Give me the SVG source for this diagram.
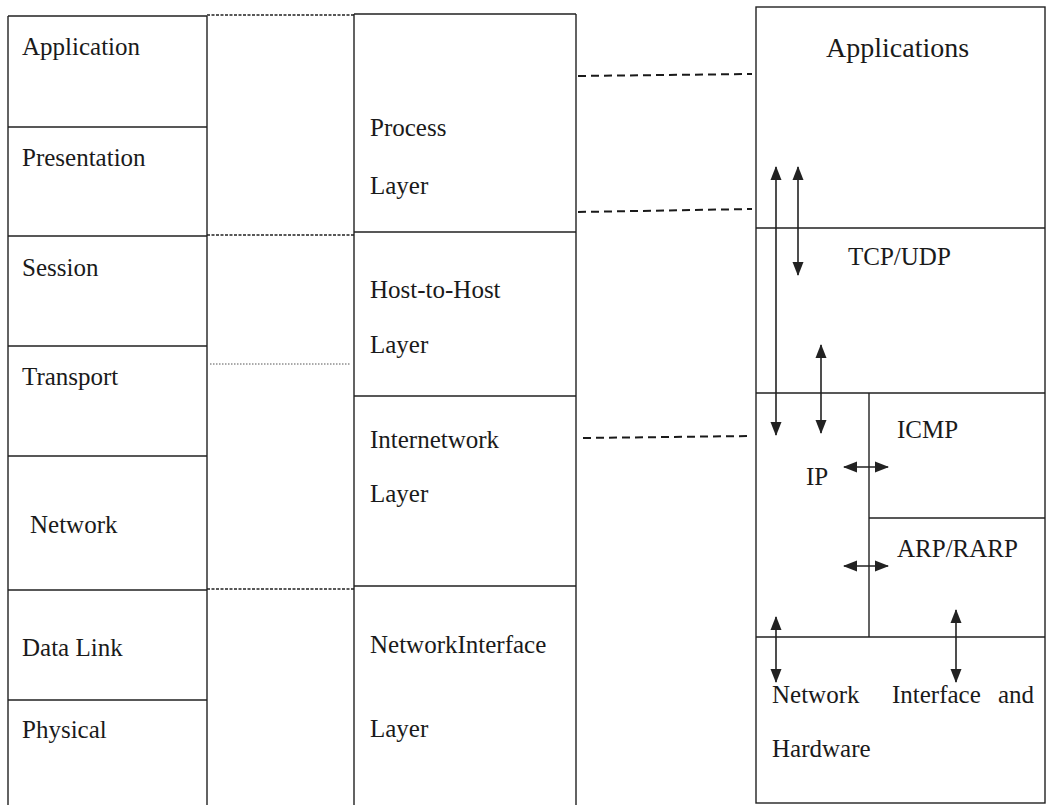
<svg xmlns="http://www.w3.org/2000/svg" width="1047" height="805" viewBox="0 0 1047 805">
<defs>
<marker id="ah" viewBox="0 0 14 12" refX="13" refY="6" markerWidth="14" markerHeight="12" markerUnits="userSpaceOnUse" orient="auto-start-reverse">
<path d="M0,0.5 L14,6 L0,11.5 z" fill="#222"/>
</marker>
<style>
text{font-family:"Liberation Serif","Times New Roman",serif;font-size:25px;fill:#1a1a1a}
.big{font-size:28px}
.ln{stroke:#222;stroke-width:1.4;fill:none}
.fd{stroke:#222;stroke-width:1.3;stroke-dasharray:3,1.5;fill:none}
.dt{stroke:#555;stroke-width:1;stroke-dasharray:1.5,1.5;fill:none}
.cd{stroke:#1a1a1a;stroke-width:2;stroke-dasharray:8,5;fill:none}
.ar{stroke:#222;stroke-width:1.6;fill:none;marker-start:url(#ah);marker-end:url(#ah)}
</style>
</defs>
<rect width="1047" height="805" fill="#fff"/>

<g id="osi">
<path class="ln" d="M8,16 H207 M8,16 V805 M207,16 V805 M8,127 H207 M8,236 H207 M8,346 H207 M8,456 H207 M8,590 H207 M8,700 H207"/>
<text x="22" y="55">Application</text>
<text x="22" y="166">Presentation</text>
<text x="22" y="276">Session</text>
<text x="22" y="385">Transport</text>
<text x="30" y="533">Network</text>
<text x="22" y="656">Data Link</text>
<text x="22" y="738">Physical</text>
</g>

<g id="middle">
<path class="fd" d="M207,15 H354 M207,235 H354 M207,589 H354"/>
<path class="dt" d="M210,364 H350"/>
</g>

<g id="tcpip-layers">
<path class="ln" d="M354,14 H576 M354,14 V805 M576,14 V805 M354,232 H576 M354,396 H576 M354,586 H576"/>
<text x="370" y="136">Process</text>
<text x="370" y="194">Layer</text>
<text x="370" y="298">Host-to-Host</text>
<text x="370" y="353">Layer</text>
<text x="370" y="448">Internetwork</text>
<text x="370" y="502">Layer</text>
<text x="370" y="653">NetworkInterface</text>
<text x="370" y="737">Layer</text>
</g>

<g id="protocols">
<rect class="ln" x="756" y="7" width="289" height="796"/>
<path class="ln" d="M756,228 H1045 M756,393 H1045 M869,393 V637 M869,518 H1045 M756,637 H1045"/>
<text class="big" x="826" y="57">Applications</text>
<text x="848" y="265">TCP/UDP</text>
<text x="897" y="438">ICMP</text>
<text x="806" y="485">IP</text>
<text x="897" y="557">ARP/RARP</text>
<text x="772" y="703">Network</text>
<text x="892" y="703">Interface</text>
<text x="998" y="703">and</text>
<text x="772" y="757">Hardware</text>
</g>

<g id="connectors">
<path class="cd" d="M578,76 L752,74"/>
<path class="cd" d="M578,212 L752,209"/>
<path class="cd" d="M583,438 L752,436"/>
<path class="ar" d="M776,167 V435"/>
<path class="ar" d="M798,167 V275"/>
<path class="ar" d="M821,345 V433"/>
<path class="ar" d="M844,467 H888"/>
<path class="ar" d="M844,566 H888"/>
<path class="ar" d="M776,617 V682"/>
<path class="ar" d="M956,610 V682"/>
</g>
</svg>
